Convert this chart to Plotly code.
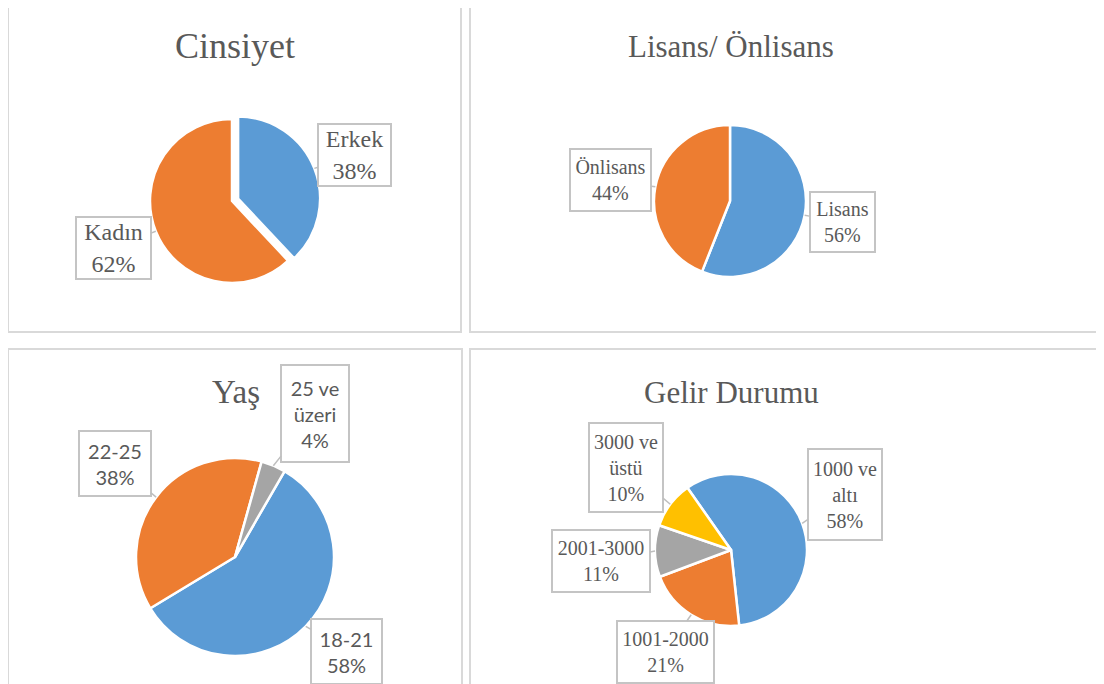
import math
import plotly.graph_objects as go

W, H = 1104, 684
OFF = 8  # page body margin: screen coords -> figure coords

# ---------------- data ----------------
cinsiyet_labels = ["Erkek", "Kadın"]
cinsiyet_values = [38, 62]

egitim_labels = ["Lisans", "Önlisans"]
egitim_values = [56, 44]

yas_labels = ["18-21", "22-25", "25 ve üzeri"]
yas_values = [58, 38, 4]

gelir_labels = ["1000 ve altı", "1001-2000", "2001-3000", "3000 ve üstü"]
gelir_values = [58, 21, 11, 10]

titles = ["Cinsiyet", "Lisans/ Önlisans", "Yaş", "Gelir Durumu"]

BLUE, ORANGE, GRAY, YELLOW = "#5B9BD5", "#ED7D31", "#A5A5A5", "#FFC000"
TEXT = "#595959"
SERIF = "Liberation Serif, Times New Roman, serif"
SANS = "Lato, Carlito, Calibri, sans-serif"

panels = [
    dict(labels=cinsiyet_labels, values=cinsiyet_values, colors=[BLUE, ORANGE],
         center=(232, 201), r=82, pull=[0.08, 0], rotation=0,
         title=titles[0], title_xy=(235, 46), title_size=36, title_font=SERIF,
         label_font=SERIF, label_size=24,
         boxes=[(354.5, 155, 75, 64), (113.5, 248, 77, 64)]),
    dict(labels=egitim_labels, values=egitim_values, colors=[BLUE, ORANGE],
         center=(730, 201), r=76, pull=[0, 0], rotation=0,
         title=titles[1], title_xy=(730.5, 46), title_size=31, title_font=SERIF,
         label_font=SERIF, label_size=20,
         boxes=[(842, 222, 67, 62), (611, 180, 83, 64)]),
    dict(labels=yas_labels, values=yas_values, colors=[BLUE, ORANGE, GRAY],
         center=(235, 557), r=99, pull=[0, 0, 0], rotation=30,
         title=titles[2], title_xy=(236, 392), title_size=33, title_font=SERIF,
         label_font=SANS, label_size=20,
         boxes=[(346.5, 651, 73, 67), (115, 463.5, 74, 67), (315, 413.5, 70, 99)]),
    dict(labels=gelir_labels, values=gelir_values, colors=[BLUE, ORANGE, GRAY, YELLOW],
         center=(731, 550), r=76, pull=[0, 0, 0, 0], rotation=-35,
         title=titles[3], title_xy=(731, 392), title_size=31, title_font=SERIF,
         label_font=SERIF, label_size=20,
         boxes=[(845, 494.5, 76, 93), (665.5, 652, 99, 64), (601, 561, 100, 64),
                (626, 467.5, 76, 91)]),
]


def px(sx):
    return (sx - OFF) / W


def py(sy):
    return 1 - (sy - OFF) / H


fig = go.Figure()
annotations = []
shapes = []

# panel frames (screen pixel coords)
for (x0, y0, x1, y1) in [(8, 3, 461, 332), (470, 3, 1120, 332),
                         (8, 349, 462, 700), (470, 349, 1120, 700)]:
    shapes.append(dict(type="rect", xref="paper", yref="paper",
                       x0=px(x0), x1=px(x1), y0=py(y1), y1=py(y0),
                       line=dict(color="#d9d9d9", width=2), fillcolor="rgba(0,0,0,0)",
                       layer="below"))

for p in panels:
    cx, cy = p["center"]
    r = p["r"]
    maxpull = max(p["pull"])
    R = r * (1 + maxpull)
    fig.add_trace(go.Pie(
        labels=p["labels"], values=p["values"], sort=False, direction="clockwise",
        rotation=p["rotation"], pull=p["pull"], textinfo="none",
        marker=dict(colors=p["colors"], line=dict(color="white", width=2.5)),
        domain=dict(x=[px(cx - R), px(cx + R)], y=[py(cy + R), py(cy - R)]),
        showlegend=False, hoverinfo="label+percent",
    ))
    # title
    tx, ty = p["title_xy"]
    annotations.append(dict(text=p["title"], x=px(tx), y=py(ty), xref="paper", yref="paper",
                            showarrow=False, xanchor="center", yanchor="middle",
                            font=dict(family=p["title_font"], size=p["title_size"], color=TEXT)))
    # callout labels
    total = sum(p["values"])
    start = p["rotation"]
    for i, (lab, val) in enumerate(zip(p["labels"], p["values"])):
        span = 360.0 * val / total
        mid = math.radians(start + span / 2)
        start += span
        rt = r * (1 + p["pull"][i])
        tipx = cx + rt * math.sin(mid)
        tipy = cy - rt * math.cos(mid)
        bx, by, bw, bh = p["boxes"][i]
        pct = round(100 * val / total)
        txt = lab.replace(" ve ", " ve<br>") + "<br>" + f"{pct}%"
        annotations.append(dict(
            text=txt, x=px(tipx), y=py(tipy), xref="paper", yref="paper",
            showarrow=True, arrowhead=0, arrowwidth=1.5, arrowcolor="#bfbfbf",
            ax=bx - tipx, ay=by - tipy, axref="pixel", ayref="pixel",
            standoff=0, startstandoff=0,
            width=bw - 4, height=bh - 4, borderpad=0, borderwidth=2,
            bordercolor="#c4c4c4", bgcolor="white", align="center", valign="middle",
            font=dict(family=p["label_font"], size=p["label_size"], color=TEXT)))

fig.update_layout(width=W, height=H, autosize=False,
                  margin=dict(l=0, r=0, t=0, b=0),
                  paper_bgcolor="white", plot_bgcolor="white",
                  annotations=annotations, shapes=shapes)

fig.write_html("out.html")
